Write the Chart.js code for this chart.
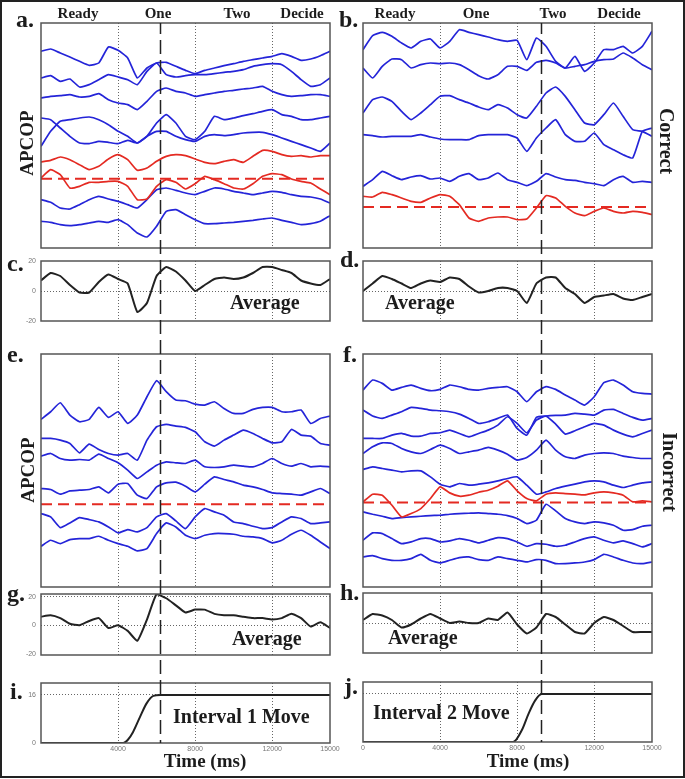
<!DOCTYPE html>
<html>
<head>
<meta charset="utf-8">
<script src="https://cdn.jsdelivr.net/npm/chart.js@4.4.1/dist/chart.umd.min.js"></script>
<style>
  html, body { margin: 0; padding: 0; background: #fff; }
  #fig { position: relative; width: 685px; height: 779px; overflow: hidden; }
  #frame { position: absolute; left: 0; top: 0; width: 685px; height: 778px; box-sizing: border-box; border: 2px solid #222; }
  canvas { position: absolute; }
  .t { position: absolute; font-family: 'Liberation Serif', 'Times New Roman', serif; font-weight: bold; color: #1c1c1c; line-height: 1; white-space: nowrap; }
</style>
</head>
<body>
<div id="fig"><div id="frame"></div></div>
<script>
// time axis (ms), one sample every 500 ms
const times = [0,500,1000,1500,2000,2500,3000,3500,4000,4500,5000,5500,6000,6500,7000,7500,
  8000,8500,9000,9500,10000,10500,11000,11500,12000,12500,13000,13500,14000,14500,15000];
const xTickVals = [0, 4000, 8000, 12000, 15000];
const move1Time = 6200, move2Time = 9250;

// a. correct, interval 1 (APCOP traces, arbitrary offset units)
const aBlue1 = [590,597,585,573,560,548,555,603,593,570,510,540,555,557,545,533,523,533,540,547,553,560,565,570,575,583,575,563,567,577,590];
const aBlue2 = [510,517,500,507,483,490,505,520,513,505,490,530,555,520,513,517,520,520,523,527,530,535,545,550,553,550,530,505,485,490,510];
const aBlue3 = [450,455,457,460,453,455,463,445,435,430,415,440,470,480,470,465,455,460,465,470,473,477,480,485,470,460,455,457,460,460,455];
const aBlue4 = [390,385,360,335,315,313,320,317,313,323,315,335,350,350,335,325,320,335,340,337,340,345,347,347,340,330,320,310,300,290,315];
const aBlue5 = [305,350,380,385,390,393,385,370,350,335,315,335,375,400,375,335,325,350,395,385,390,397,403,410,415,400,395,385,385,390,395];
const aRed1  = [258,263,273,265,250,235,245,267,280,265,233,240,260,275,280,277,267,257,253,260,265,257,275,293,290,280,275,277,273,277,277];
const aRed2  = [210,235,220,180,185,197,197,200,200,185,145,147,185,205,197,177,193,215,205,193,180,177,193,215,223,220,207,200,195,177,160];
const aRefLevel = 208;
const aBlue6 = [145,137,120,117,130,145,155,147,140,130,120,145,175,180,173,165,160,170,180,177,170,165,160,165,170,167,160,155,153,147,135];
const aBlue7 = [80,77,70,67,70,75,80,77,85,70,45,33,65,110,115,100,85,73,73,75,77,80,83,87,90,83,77,70,73,80,97];

// b. correct, interval 2
const bBlue1 = [595,637,647,635,615,600,620,627,600,620,655,647,640,633,625,620,623,565,630,605,560,540,575,530,555,595,595,605,585,605,650];
const bBlue2 = [540,510,545,567,565,540,550,555,553,555,550,535,517,507,520,545,545,533,557,563,555,540,545,550,560,565,567,585,570,550,535];
const bBlue3 = [405,445,453,440,410,385,405,430,455,457,445,435,423,415,430,420,400,390,425,465,483,455,415,375,370,400,435,395,355,350,335];
const bBlue4 = [340,337,333,335,335,335,340,333,327,325,325,325,337,340,340,340,330,290,330,360,385,340,320,320,345,310,295,280,270,350,360];
const bBlue5 = [185,205,230,217,205,213,217,207,210,200,215,223,205,210,225,205,197,187,200,223,213,205,203,197,193,187,205,215,197,200,197];
const bRed   = [155,153,167,160,150,140,137,150,160,155,130,90,80,90,93,93,85,87,120,157,150,125,105,97,110,120,110,105,110,107,100];
const bRefLevel = 123;

// e. incorrect, interval 1
const eBlue1 = [502,525,552,515,495,502,538,508,525,490,515,570,618,585,560,558,548,545,555,535,520,520,532,538,538,525,525,530,490,505,512];
const eBlue2 = [445,445,440,430,402,428,412,400,395,400,380,440,480,487,482,478,465,435,422,440,455,470,460,445,432,435,472,455,452,430,425];
const eBlue3 = [392,400,385,380,382,380,398,385,372,350,325,345,365,375,372,370,380,360,358,360,365,362,360,370,385,370,362,370,360,362,360];
const eBlue4 = [295,292,278,288,290,292,300,282,308,310,275,265,300,312,314,302,285,308,330,322,315,305,300,292,282,280,278,275,285,295,280];
const eRefLevel = 248;
const eBlue5 = [220,210,178,192,208,202,195,180,162,172,165,178,210,220,198,175,210,235,225,215,195,190,182,175,178,195,210,205,190,192,195];
const eBlue6 = [122,140,130,142,145,145,152,140,130,122,108,115,160,192,180,155,145,155,160,160,158,152,150,145,132,140,158,170,155,135,115];

// f. incorrect, interval 2
const fBlue1 = [590,620,610,590,598,605,595,588,592,605,600,592,590,595,598,600,585,555,585,600,592,575,560,545,570,612,620,605,585,580,578];
const fBlue2 = [530,512,505,515,525,538,535,530,528,525,518,505,490,495,505,515,475,455,508,512,514,515,520,518,515,530,532,520,508,500,505];
const fBlue3 = [445,445,445,455,460,452,452,460,462,470,460,450,460,470,485,510,490,462,500,512,488,458,468,480,490,485,470,458,450,460,470];
const fBlue4 = [400,420,432,430,415,405,400,412,425,415,400,405,410,418,410,398,380,388,410,440,410,390,385,395,400,402,400,392,388,385,385];
const fBlue5 = [352,360,355,350,345,348,348,330,308,300,310,305,308,312,318,325,330,305,278,285,295,302,308,315,318,315,305,298,305,312,315];
const fRed   = [255,278,275,245,210,220,235,265,300,282,272,275,284,290,302,318,288,265,258,278,282,280,278,276,282,285,282,275,255,258,255];
const fRefLevel = 253;
const fBlue6 = [225,218,212,205,208,210,212,214,215,218,220,221,222,220,218,214,205,190,200,248,228,205,195,190,195,192,185,170,172,182,185];
const fBlue7 = [140,162,160,145,130,135,145,145,135,138,145,140,132,140,148,145,135,122,130,128,122,125,135,145,150,140,132,138,130,120,130];
const fBlue8 = [90,94,85,80,80,85,98,80,72,80,88,90,82,80,90,85,80,75,82,80,70,70,72,75,82,98,90,80,72,70,75];

// averages c, d, g, h
const cAvg = [7,12,10,4,-1,-1,6,11,8,5,-14,-8,10,16,13,7,0,4,8,9,8,9,12,16,16,14,12,7,5,4,8];
const dAvg = [0,5,10,8,5,2,5,7,6,9,8,3,-1,0,2,2,0,-8,5,9,9,2,-2,-8,-4,-3,-2,-5,-6,-4,-2];
const gAvg = [6,7,5,1,0,3,5,-2,0,-4,-11,4,22,19,14,9,11,11,8,7,7,6,5,5,4,5,8,5,-1,2,-2];
const hAvg = [2,6,5,2,-3,-1,3,6,3,0,1,0,0,3,2,7,-1,-7,-3,6,4,-1,-6,-7,0,4,2,-2,-6,-6,-6];

// i, j. movement
const move1T = [0,4270,4500,4780,5140,5480,5830,6200,15000];
const move1V = [0,0,1,3.7,8.7,13.2,15.7,16,16];
const move2T = [0,7790,8240,8590,8930,9270,15000];
const move2V = [0,0,3.9,9.4,13.8,16,16];

const BLUE = '#2424d8', RED = '#e42a22', BLACK = '#222', GRID = '#666';
const TICK_FONT = { family: 'Liberation Sans', size: 7 };
const fig = document.getElementById('fig');

const pts = v => times.map((t, i) => ({ x: t, y: v[i] }));
const blue = v => ({ data: pts(v), borderColor: BLUE });
const red = v => ({ data: pts(v), borderColor: RED });
const level = y => ({ data: [{ x: 0, y: y }, { x: 15000, y: y }], borderColor: RED, borderDash: [11, 6], borderWidth: 2, tension: 0 });
const avg = v => ({ data: pts(v), borderColor: BLACK, borderWidth: 2 });
const move = (t, v) => ({ data: t.map((x, i) => ({ x: x, y: v[i] })), borderColor: BLACK, borderWidth: 2, cubicInterpolationMode: 'monotone' });

const boxPlugin = {
  id: 'box',
  afterDatasetsDraw(chart) {
    const { ctx, chartArea: a } = chart;
    ctx.save();
    ctx.strokeStyle = '#555';
    ctx.lineWidth = 1.5;
    ctx.strokeRect(a.left, a.top, a.right - a.left, a.bottom - a.top);
    ctx.restore();
  }
};

// long dashed line marking the move, runs through all panels of a column
const markPlugin = {
  id: 'mark',
  afterDraw(chart, args, o) {
    const { ctx, chartArea, height } = chart;
    const x = Math.round(chart.scales.x.getPixelForValue(o.t)) + 0.5;
    const y1 = o.first ? chartArea.top : 0;
    const y2 = o.last ? chartArea.bottom : height;
    ctx.save();
    ctx.strokeStyle = '#222';
    ctx.lineWidth = 1.5;
    ctx.setLineDash([14, 6]);
    ctx.lineDashOffset = (o.top + y1) % 20;
    ctx.beginPath();
    ctx.moveTo(x, y1);
    ctx.lineTo(x, y2);
    ctx.stroke();
    ctx.restore();
  }
};

const gridColor = keep => c => (c.tick && keep(c.tick.value)) ? GRID : 'rgba(0,0,0,0)';

function panel(p) {
  const cv = document.createElement('canvas');
  cv.width = p.w; cv.height = p.h;
  cv.style.left = p.left + 'px'; cv.style.top = p.top + 'px';
  fig.appendChild(cv);
  const xH = p.xLabels ? 34 : 0;
  const yTicks = p.yTicks || [p.yMin];
  new Chart(cv, {
    type: 'line',
    data: { datasets: p.datasets },
    options: {
      responsive: false,
      animation: false,
      events: [],
      layout: { padding: { left: 0, right: p.left + p.w - p.area[1], top: p.area[2] - p.top, bottom: p.top + p.h - p.area[3] - xH } },
      elements: { point: { radius: 0 }, line: { borderWidth: 1.7, tension: 0.15 } },
      plugins: {
        legend: { display: false },
        tooltip: { enabled: false },
        mark: { t: p.mark, first: p.first, last: p.last, top: p.top }
      },
      scales: {
        x: {
          type: 'linear', min: 0, max: 15000,
          afterBuildTicks: ax => { ax.ticks = xTickVals.map(v => ({ value: v })); },
          afterFit: ax => { ax.height = xH; ax.paddingLeft = 0; ax.paddingRight = 0; },
          grid: { color: gridColor(v => v > 0 && v < 15000), drawTicks: false, lineWidth: 1 },
          border: { display: false, dash: [1, 2] },
          ticks: {
            display: !!p.xLabels, padding: 2, maxRotation: 0, autoSkip: false,
            font: TICK_FONT, color: '#777',
            callback: v => (v === 0 && p.hideX0) ? '' : String(v)
          }
        },
        y: {
          min: p.yMin, max: p.yMax,
          afterBuildTicks: ax => { ax.ticks = yTicks.map(v => ({ value: v })); },
          afterFit: ax => { ax.width = p.area[0] - p.left; ax.paddingTop = 0; ax.paddingBottom = 0; },
          grid: { color: gridColor(v => (p.yGrid || []).includes(v)), drawTicks: false, lineWidth: 1 },
          border: { display: false, dash: [1, 2] },
          ticks: { display: !!p.yLabels, padding: 5, font: TICK_FONT, color: '#777', callback: v => String(v) }
        }
      }
    },
    plugins: [boxPlugin, markPlugin]
  });
}

// left column: interval 1
panel({ left: 0, top: 0, w: 340, h: 255, area: [41, 330, 23, 248], yMin: 0, yMax: 675, mark: move1Time, first: true,
  datasets: [blue(aBlue1), blue(aBlue2), blue(aBlue3), blue(aBlue4), blue(aBlue5), red(aRed1), level(aRefLevel), red(aRed2), blue(aBlue6), blue(aBlue7)] });
panel({ left: 0, top: 255, w: 340, h: 80, area: [41, 330, 261, 321], yMin: -20, yMax: 20, yTicks: [-20, 0, 20], yGrid: [0], yLabels: true, mark: move1Time,
  datasets: [avg(cAvg)] });
panel({ left: 0, top: 335, w: 340, h: 255, area: [41, 330, 354, 587], yMin: 0, yMax: 698, mark: move1Time,
  datasets: [blue(eBlue1), blue(eBlue2), blue(eBlue3), blue(eBlue4), level(eRefLevel), blue(eBlue5), blue(eBlue6)] });
panel({ left: 0, top: 590, w: 340, h: 78, area: [41, 330, 594, 655], yMin: -21, yMax: 22, yTicks: [-20, 0, 20], yGrid: [0, 20], yLabels: true, mark: move1Time,
  datasets: [avg(gAvg)] });
panel({ left: 0, top: 668, w: 340, h: 111, area: [41, 330, 683, 743], yMin: 0, yMax: 20, yTicks: [0, 16], yGrid: [16], yLabels: true, xLabels: true, hideX0: true, mark: move1Time, last: true,
  datasets: [move(move1T, move1V)] });

// right column: interval 2
panel({ left: 340, top: 0, w: 345, h: 255, area: [363, 652, 23, 248], yMin: 0, yMax: 675, mark: move2Time, first: true,
  datasets: [blue(bBlue1), blue(bBlue2), blue(bBlue3), blue(bBlue4), blue(bBlue5), level(bRefLevel), red(bRed)] });
panel({ left: 340, top: 255, w: 345, h: 80, area: [363, 652, 261, 321], yMin: -20, yMax: 20, yTicks: [0], yGrid: [0], mark: move2Time,
  datasets: [avg(dAvg)] });
panel({ left: 340, top: 335, w: 345, h: 255, area: [363, 652, 354, 587], yMin: 0, yMax: 698, mark: move2Time,
  datasets: [blue(fBlue1), blue(fBlue2), blue(fBlue3), blue(fBlue4), blue(fBlue5), red(fRed), level(fRefLevel), blue(fBlue6), blue(fBlue7), blue(fBlue8)] });
panel({ left: 340, top: 590, w: 345, h: 78, area: [363, 652, 593, 653], yMin: -20, yMax: 20, yTicks: [0], yGrid: [0], mark: move2Time,
  datasets: [avg(hAvg)] });
panel({ left: 340, top: 668, w: 345, h: 111, area: [363, 652, 682, 742], yMin: 0, yMax: 20, yTicks: [16], yGrid: [16], xLabels: true, mark: move2Time, last: true,
  datasets: [move(move2T, move2V)] });

// text
function txt(s, x, base, size, align, rot) {
  const d = document.createElement('div');
  d.className = 't';
  d.textContent = s;
  d.style.fontSize = size + 'px';
  if (rot) {
    d.style.left = x + 'px';
    d.style.top = base + 'px';
    d.style.transform = 'translate(-50%,-50%) rotate(' + rot + 'deg)';
  } else {
    d.style.left = x + 'px';
    d.style.top = (base - 0.8375 * size) + 'px';
    if (align === 'center') d.style.transform = 'translateX(-50%)';
  }
  fig.appendChild(d);
}

[['a.', 16, 27], ['b.', 339, 27], ['c.', 7, 271], ['d.', 340, 267], ['e.', 7, 362], ['f.', 343, 362],
 ['g.', 7, 601], ['h.', 340, 600], ['i.', 10, 699], ['j.', 344, 694]].forEach(l => txt(l[0], l[1], l[2], 24));

[['Ready', 78], ['One', 158], ['Two', 237], ['Decide', 302], ['Ready', 395], ['One', 476], ['Two', 553], ['Decide', 619]]
  .forEach(l => txt(l[0], l[1], 19, 15, 'center'));

txt('Average', 230, 309, 20);
txt('Average', 385, 309, 20);
txt('Average', 232, 645, 20);
txt('Average', 388, 644, 20);
txt('Interval 1 Move', 173, 723, 20);
txt('Interval 2 Move', 373, 719, 20);
txt('Time (ms)', 205, 767, 19, 'center');
txt('Time (ms)', 528, 767, 19, 'center');
txt('APCOP', 26, 143, 19, null, -90);
txt('APCOP', 27, 470, 19, null, -90);
txt('Correct', 667, 141, 20, null, 90);
txt('Incorrect', 670, 472, 20, null, 90);
</script>
</body>
</html>
